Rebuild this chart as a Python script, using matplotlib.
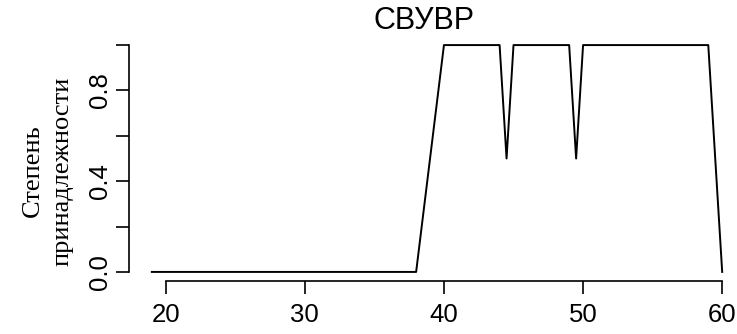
import matplotlib
matplotlib.use('Agg')
import matplotlib.pyplot as plt

# membership function points
x_vals = [19, 38, 40, 44, 44.5, 45, 49, 49.5, 50, 59, 60]
y_vals = [0, 0, 1, 1, 0.5, 1, 1, 0.5, 1, 1, 0]
x_ticks = [20, 30, 40, 50, 60]
y_ticks = [0.0, 0.2, 0.4, 0.6, 0.8, 1.0]
y_labels = ['0.0', '', '0.4', '', '0.8', '']

W, H = 737, 334
fig = plt.figure(figsize=(W / 100, H / 100), dpi=100)
# plot region in pixels, R style (4% padding outside data range)
left, right, top, bottom = 129, 745, 36, 281
ax = fig.add_axes([left / W, (H - bottom) / H, (right - left) / W, (bottom - top) / H])

ax.plot(x_vals, y_vals, color='black', linewidth=1.4)
ax.set_xlim(17.36, 61.64)
ax.set_ylim(-0.04, 1.04)

for s in ['top', 'right']:
    ax.spines[s].set_visible(False)
ax.spines['left'].set_bounds(0, 1)
ax.spines['bottom'].set_bounds(20, 60)
for s in ['left', 'bottom']:
    ax.spines[s].set_linewidth(1.2)

ax.set_xticks(x_ticks)
ax.set_xticklabels([str(t) for t in x_ticks], fontfamily='Liberation Sans', fontsize=18.5)
ax.set_yticks(y_ticks)
ax.set_yticklabels(y_labels, fontfamily='Liberation Sans', fontsize=18.5, rotation=90, va='center')
ax.tick_params(axis='x', length=9.4, width=1.2, pad=6.5)
ax.tick_params(axis='y', length=9.4, width=1.2, pad=3)

# title and y label sit a bit off-centre in the original
ax.set_title('СВУВР', fontfamily='Liberation Sans', fontsize=22, pad=0, x=0.479)
ax.set_ylabel('Степень\nпринадлежности', fontfamily='Liberation Serif', fontsize=19,
              linespacing=1.5, labelpad=10)
ax.yaxis.label.set_y(0.449)

fig.savefig('out.png', dpi=100)
